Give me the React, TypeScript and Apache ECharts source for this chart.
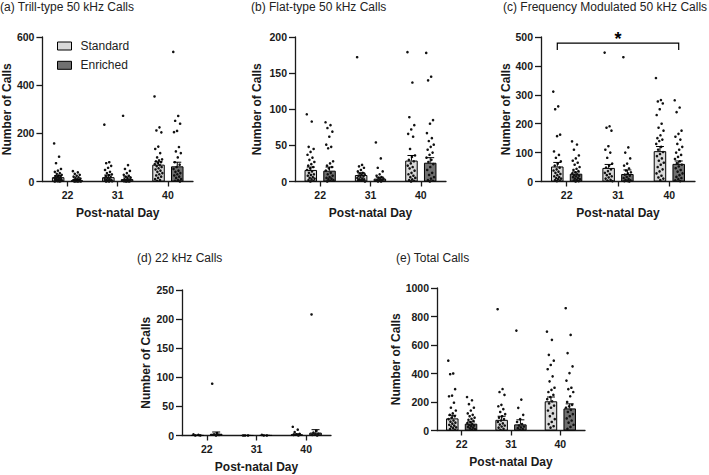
import React, { useEffect, useRef } from 'react';
import * as echarts from 'echarts';

// Post-natal days on every x axis
const days = ['22', '31', '40'];
const groupNames = ['Standard', 'Enriched'];
const groupColors = ['#d9d9d9', '#707070'];

// (a) Trill-type 50 kHz calls
const trillStdMean = [18, 18, 70];
const trillStdSem = [6, 9, 12];
const trillEnrMean = [5, 10, 63];
const trillEnrSem = [2, 9, 17];
const trillStdPoints = [
  [158, 103, 76, 52, 45, 40, 35, 32, 28, 25, 22, 20, 18, 15, 14, 12, 10, 9, 8, 6, 5, 4, 3, 2, 2, 1, 0, 0],
  [236, 80, 76, 65, 57, 48, 40, 35, 30, 26, 22, 18, 15, 12, 10, 8, 6, 5, 4, 3, 2, 1, 0, 0],
  [353, 225, 212, 204, 145, 135, 118, 100, 92, 88, 84, 80, 76, 72, 68, 64, 60, 55, 50, 45, 40, 35, 30, 25, 20, 15, 10, 6, 3],
];
const trillEnrPoints = [
  [43, 38, 32, 28, 24, 20, 17, 15, 12, 10, 8, 7, 6, 5, 4, 3, 3, 2, 2, 1, 1, 0, 0, 0],
  [273, 68, 52, 44, 35, 28, 24, 20, 16, 13, 10, 8, 6, 5, 4, 3, 2, 1, 1, 0, 0],
  [538, 272, 252, 240, 210, 205, 143, 125, 118, 100, 80, 70, 60, 52, 45, 40, 35, 30, 25, 20, 15, 10, 6, 3, 0],
];

// (b) Flat-type 50 kHz calls
const flatStdMean = [16, 9, 29];
const flatStdSem = [4, 3, 7];
const flatEnrMean = [15, 4, 26];
const flatEnrSem = [5, 2, 7];
const flatStdPoints = [
  [93, 83, 48, 45, 41, 37, 33, 30, 27, 24, 22, 20, 18, 16, 14, 12, 10, 9, 8, 6, 5, 4, 3, 2, 1, 0],
  [172, 23, 21, 19, 16, 14, 12, 11, 10, 9, 8, 7, 6, 5, 4, 3, 3, 2, 2, 1, 1, 0],
  [179, 137, 89, 78, 72, 66, 62, 45, 36, 34, 30, 28, 25, 22, 20, 18, 15, 12, 10, 8, 6, 5, 3, 2, 1, 0],
];
const flatEnrPoints = [
  [82, 78, 74, 69, 62, 51, 48, 46, 28, 25, 22, 20, 18, 15, 12, 10, 8, 6, 5, 4, 3, 2, 1, 0],
  [54, 32, 19, 14, 10, 8, 6, 5, 4, 3, 2, 2, 1, 1, 0, 0],
  [178, 145, 140, 85, 80, 67, 60, 56, 51, 48, 44, 40, 37, 33, 30, 27, 24, 20, 16, 12, 9, 6, 4, 2, 1, 0],
];

// (c) Frequency modulated 50 kHz calls
const fmStdMean = [52, 47, 105];
const fmStdSem = [14, 12, 16];
const fmEnrMean = [27, 26, 61];
const fmEnrSem = [6, 14, 10];
const fmStdPoints = [
  [311, 260, 250, 162, 157, 104, 92, 82, 70, 62, 55, 48, 42, 38, 34, 30, 26, 22, 18, 15, 12, 10, 8, 5, 3, 1],
  [446, 191, 186, 176, 122, 110, 100, 82, 62, 55, 48, 42, 36, 30, 26, 22, 18, 14, 10, 6, 3, 1],
  [358, 282, 277, 270, 250, 230, 200, 186, 176, 160, 150, 145, 140, 130, 120, 110, 102, 95, 88, 80, 72, 65, 58, 50, 42, 35, 28, 20, 14, 10, 5],
];
const fmEnrPoints = [
  [139, 128, 110, 90, 80, 72, 65, 58, 50, 44, 40, 36, 32, 28, 25, 22, 20, 18, 15, 12, 10, 8, 5, 3, 1, 0],
  [430, 118, 100, 80, 62, 55, 45, 38, 32, 28, 24, 20, 16, 12, 9, 6, 4, 2, 1, 0],
  [281, 256, 240, 176, 165, 155, 145, 130, 120, 110, 100, 92, 85, 78, 70, 64, 58, 52, 46, 40, 34, 28, 22, 16, 12, 8, 4, 1],
];

// (d) 22 kHz calls
const lowStdMean = [0.3, 0.1, 2];
const lowStdSem = [0.2, 0.1, 0.8];
const lowEnrMean = [3, 0.2, 5];
const lowEnrSem = [3, 0.1, 5];
const lowStdPoints = [
  [2, 1, 0, 0],
  [0, 0, 0],
  [15, 10, 6, 3, 2, 1, 0],
];
const lowEnrPoints = [
  [89, 4, 2, 1, 0],
  [1, 0, 0],
  [208, 8, 5, 3, 2, 1, 0],
];

// (e) Total calls
const totalStdMean = [85, 75, 205];
const totalStdSem = [22, 25, 30];
const totalEnrMean = [48, 43, 155];
const totalEnrSem = [12, 32, 32];
const totalStdPoints = [
  [490, 400, 395, 290, 245, 240, 195, 160, 140, 120, 110, 100, 90, 80, 70, 62, 55, 48, 40, 34, 28, 22, 16, 10, 5],
  [851, 291, 270, 250, 180, 170, 150, 130, 115, 100, 90, 80, 70, 60, 50, 42, 35, 28, 20, 12, 5],
  [694, 636, 531, 490, 460, 430, 380, 345, 300, 285, 270, 250, 235, 220, 205, 190, 175, 160, 140, 120, 100, 80, 60, 45, 30, 20],
];
const totalEnrPoints = [
  [235, 212, 185, 160, 140, 120, 110, 100, 90, 82, 75, 68, 60, 52, 45, 40, 35, 30, 25, 20, 15, 10, 5],
  [701, 217, 159, 110, 80, 60, 45, 35, 28, 22, 16, 10, 5],
  [858, 671, 543, 450, 403, 350, 300, 290, 270, 240, 200, 180, 170, 160, 145, 130, 115, 100, 85, 70, 55, 40, 25, 12],
];

// Y-axis ranges
const yMax = [600, 200, 500, 250, 1000];
const yStep = [200, 50, 100, 50, 200];

const titles = [
  '(a) Trill-type 50 kHz Calls',
  '(b) Flat-type 50 kHz Calls',
  '(c) Frequency Modulated 50 kHz Calls',
  '(d) 22 kHz Calls',
  '(e) Total Calls',
];

const panels = [
  { mean: [trillStdMean, trillEnrMean], sem: [trillStdSem, trillEnrSem], points: [trillStdPoints, trillEnrPoints] },
  { mean: [flatStdMean, flatEnrMean], sem: [flatStdSem, flatEnrSem], points: [flatStdPoints, flatEnrPoints] },
  { mean: [fmStdMean, fmEnrMean], sem: [fmStdSem, fmEnrSem], points: [fmStdPoints, fmEnrPoints] },
  { mean: [lowStdMean, lowEnrMean], sem: [lowStdSem, lowEnrSem], points: [lowStdPoints, lowEnrPoints] },
  { mean: [totalStdMean, totalEnrMean], sem: [totalStdSem, totalEnrSem], points: [totalStdPoints, totalEnrPoints] },
];

// Layout of the five plot areas
const layout = [
  { left: 42, top: 37, width: 151, height: 144.5, nameGap: 29, titleLeft: 0, titleTop: 1 },
  { left: 295, top: 37, width: 151, height: 144.5, nameGap: 32, titleLeft: 251, titleTop: 1 },
  { left: 541, top: 37, width: 154, height: 144.5, nameGap: 24, titleLeft: 503, titleTop: 1 },
  { left: 182, top: 290, width: 149, height: 145.5, nameGap: 30, titleLeft: 137, titleTop: 252 },
  { left: 437, top: 288, width: 148, height: 142.5, nameGap: 35, titleLeft: 396, titleTop: 252 },
];

const FONT = "'Liberation Sans', Arial, Helvetica, sans-serif";
const INK = '#1a1a1a';
const BAR_W = 12.5;
const BAR_GAP = 0.5;
const SIDE_OFFSET = (BAR_W + BAR_W * BAR_GAP) / 2;

// Spread dots across the bar width so that ties stay visible
const spread = (k: number) => (((k * 0.6180339887) % 1) - 0.5) * 8;

function buildOption() {
  const grid: any[] = [];
  const xAxis: any[] = [];
  const yAxis: any[] = [];
  const series: any[] = [];
  const title: any[] = [];

  panels.forEach((p, i) => {
    const L = layout[i];
    grid.push({ left: L.left, top: L.top, width: L.width, height: L.height, containLabel: false });
    title.push({
      text: titles[i],
      left: L.titleLeft,
      top: L.titleTop,
      padding: 0,
      textStyle: { fontFamily: FONT, fontSize: 12, fontWeight: 'normal', color: '#222' },
    });
    xAxis.push({
      type: 'category',
      gridIndex: i,
      data: days,
      name: 'Post-natal Day',
      nameLocation: 'middle',
      nameGap: 25,
      nameTextStyle: { fontFamily: FONT, fontSize: 12, fontWeight: 'bold', color: INK },
      axisLine: { show: true, lineStyle: { color: INK, width: 1.3 } },
      axisTick: { show: true, alignWithLabel: true, length: 5, lineStyle: { color: INK, width: 1.3 } },
      axisLabel: { fontFamily: FONT, fontSize: 10.5, fontWeight: 'bold', color: INK, margin: 8 },
      splitLine: { show: false },
    });
    yAxis.push({
      type: 'value',
      gridIndex: i,
      min: 0,
      max: yMax[i],
      interval: yStep[i],
      name: 'Number of Calls',
      nameLocation: 'middle',
      nameGap: L.nameGap,
      nameTextStyle: { fontFamily: FONT, fontSize: 12, fontWeight: 'bold', color: INK },
      axisLine: { show: true, lineStyle: { color: INK, width: 1.3 } },
      axisTick: { show: true, length: 6, lineStyle: { color: INK, width: 1.3 } },
      axisLabel: {
        fontFamily: FONT,
        fontSize: 10.5,
        fontWeight: 'bold',
        color: INK,
        margin: 8,
        formatter: (v: number) => String(v),
      },
      splitLine: { show: false },
    });

    groupNames.forEach((name, g) => {
      const side = g === 0 ? -1 : 1;
      series.push({
        type: 'bar',
        name,
        xAxisIndex: i,
        yAxisIndex: i,
        data: p.mean[g],
        barWidth: BAR_W,
        barGap: `${BAR_GAP * 100}%`,
        itemStyle: { color: groupColors[g], borderColor: '#000', borderWidth: 1 },
        z: 2,
      });

      const dots: number[][] = [];
      p.points[g].forEach((vals, d) => vals.forEach((v, k) => dots.push([d, v, k])));
      series.push({
        type: 'custom',
        name,
        xAxisIndex: i,
        yAxisIndex: i,
        data: dots,
        z: 3,
        renderItem: (_params: any, api: any) => {
          const c = api.coord([api.value(0), api.value(1)]);
          return {
            type: 'circle',
            shape: { cx: c[0] + side * SIDE_OFFSET + spread(api.value(2)), cy: c[1], r: 1.3 },
            style: { fill: '#111' },
          };
        },
      });

      series.push({
        type: 'custom',
        name,
        xAxisIndex: i,
        yAxisIndex: i,
        data: p.mean[g].map((m, d) => [d, m, p.sem[g][d]]),
        z: 4,
        renderItem: (_params: any, api: any) => {
          const m = api.value(1);
          const s = api.value(2);
          const a = api.coord([api.value(0), m]);
          const b = api.coord([api.value(0), m + s]);
          const x = a[0] + side * SIDE_OFFSET;
          const st = { stroke: '#000', lineWidth: 1 };
          return {
            type: 'group',
            children: [
              { type: 'line', shape: { x1: x, y1: a[1], x2: x, y2: b[1] }, style: st },
              { type: 'line', shape: { x1: x - 4, y1: b[1], x2: x + 4, y2: b[1] }, style: st },
            ],
          };
        },
      });
    });
  });

  // Significance bracket across day 22 Standard to day 40 Enriched in panel (c)
  series.push({
    type: 'custom',
    xAxisIndex: 2,
    yAxisIndex: 2,
    data: [[0, 2, 479]],
    z: 5,
    renderItem: (_params: any, api: any) => {
      const a = api.coord([api.value(0), api.value(2)]);
      const b = api.coord([api.value(1), api.value(2)]);
      const x1 = a[0] - SIDE_OFFSET;
      const x2 = b[0] + SIDE_OFFSET;
      const y = a[1];
      return {
        type: 'group',
        children: [
          {
            type: 'polyline',
            shape: { points: [[x1, y + 7], [x1, y], [x2, y], [x2, y + 7]] },
            style: { stroke: '#000', lineWidth: 1.2, fill: 'none' },
          },
          {
            type: 'text',
            style: {
              x: (x1 + x2) / 2,
              y: y - 4,
              text: '*',
              fontFamily: FONT,
              fontSize: 18,
              fontWeight: 'bold',
              fill: '#000',
              align: 'center',
              verticalAlign: 'middle',
            },
          },
        ],
      };
    },
  });

  return {
    animation: false,
    backgroundColor: '#fff',
    title,
    legend: {
      data: groupNames,
      orient: 'vertical',
      left: 57,
      top: 40,
      padding: 0,
      itemWidth: 14,
      itemHeight: 8,
      itemGap: 7.3,
      icon: 'rect',
      selectedMode: false,
      itemStyle: { borderColor: '#000', borderWidth: 1 },
      textStyle: { fontFamily: FONT, fontSize: 12, color: '#222', lineHeight: 12, padding: [0, 0, 0, 4] },
    },
    grid,
    xAxis,
    yAxis,
    series,
  };
}

export default function App() {
  const ref = useRef<HTMLDivElement>(null);
  useEffect(() => {
    if (!ref.current) return;
    const chart = echarts.init(ref.current, null, { renderer: 'svg' });
    chart.setOption(buildOption());
    return () => chart.dispose();
  }, []);
  return (
    <div
      ref={ref}
      style={{ position: 'absolute', left: 0, top: 0, width: 709, height: 475, background: '#fff' }}
    />
  );
}
